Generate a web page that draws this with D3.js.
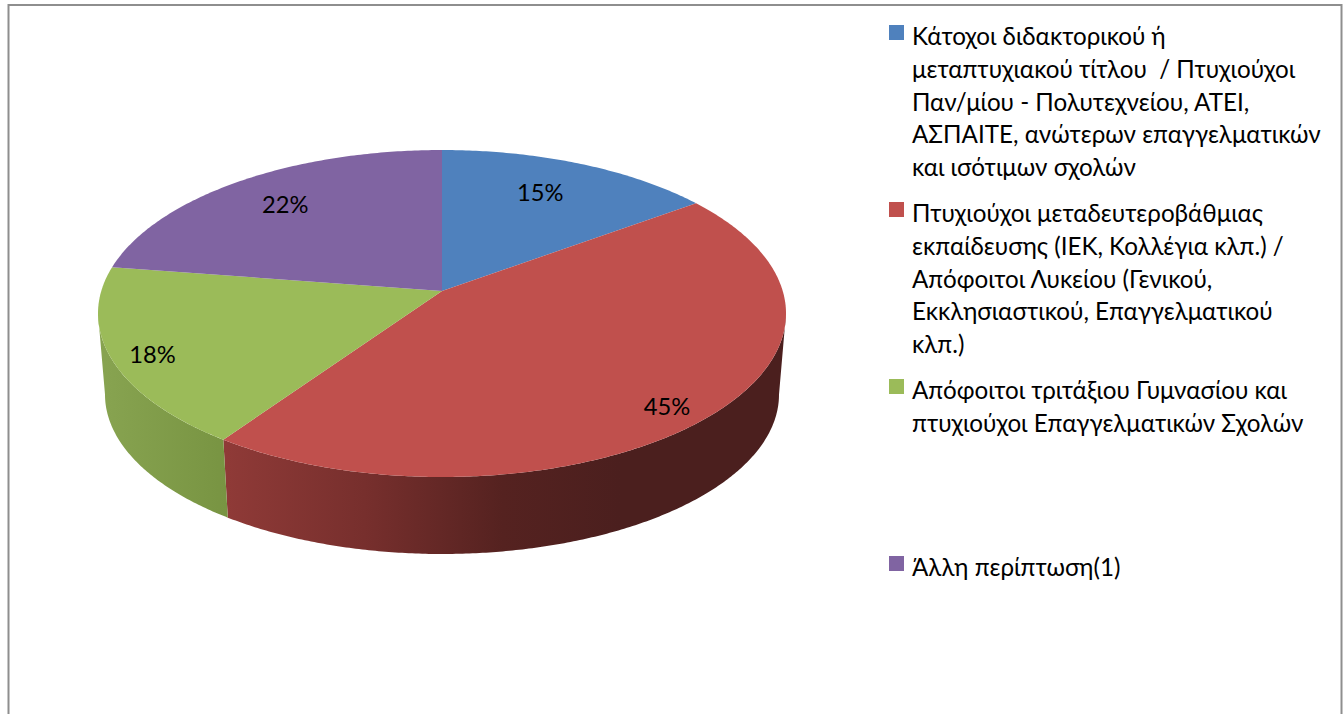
<!DOCTYPE html>
<meta charset="utf-8">
<style>
  body { margin: 0; background: #fff; overflow: hidden; }
  svg { display: block; }
  text { font-family: "Lato", "Open Sans", sans-serif; fill: #000; white-space: pre; }
</style>
<svg id="chart" width="1344" height="714"></svg>
<script src="https://cdn.jsdelivr.net/npm/d3@7/dist/d3.min.js"></script>
<script>

var categories = [
  ["Κάτοχοι διδακτορικού ή", "μεταπτυχιακού τίτλου  / Πτυχιούχοι", "Παν/μίου - Πολυτεχνείου, ΑΤΕΙ,", "ΑΣΠΑΙΤΕ, ανώτερων επαγγελματικών", "και ισότιμων σχολών"],
  ["Πτυχιούχοι μεταδευτεροβάθμιας", "εκπαίδευσης (ΙΕΚ, Κολλέγια κλπ.) /", "Απόφοιτοι Λυκείου (Γενικού,", "Εκκλησιαστικού, Επαγγελματικού", "κλπ.)"],
  ["Απόφοιτοι τριτάξιου Γυμνασίου και", "πτυχιούχοι Επαγγελματικών Σχολών"],
  ["Άλλη περίπτωση(1)"]
];
var values = [14.51, 45.43, 18.0, 22.06];

var topColors = ["#4f81bd", "#c0504d", "#9bbb59", "#8064a2"];
var legendY = [25, 202, 379, 556]; // top of each legend square
// how far out along its slice each label sits, excel "best fit" style
var labelReach = [0.75, 0.87, 0.87, 0.77];
var labelNudge = [[-5, -3], [-6, 6], [-2, 5], [-1, -2]];

var svg = d3.select("#chart");
var defs = svg.append("defs");

svg.append("rect")
    .attr("x", 8.5).attr("y", 5).attr("width", 1333).attr("height", 800)
    .attr("fill", "none").attr("stroke", "#8e8e8e").attr("stroke-width", 2);

// top face and bottom rim ellipses, in unit coordinates
var xTop = d3.scaleLinear().domain([-1, 1]).range([98, 786]);
var yTop = d3.scaleLinear().domain([-1, 1]).range([150, 477]);
var xBot = d3.scaleLinear().domain([-1, 1]).range([105, 779]);
var yBot = d3.scaleLinear().domain([-1, 1]).range([235, 554]);
var apexV = -0.138; // the tilt pushes the pie centre above the ellipse centre
var squeeze = 0.9;

// true pie angle -> angle on the drawn ellipse
function rim(a) {
  var r = 2 * Math.atan2(squeeze * Math.sin(a / 2), Math.cos(a / 2));
  return r < 0 ? r + 2 * Math.PI : r;
}
function angles(a, b) {
  var n = Math.ceil((b - a) / 0.01);
  return d3.range(n + 1).map(function(i) { return a + (b - a) * i / n; });
}
var lineTop = d3.line()
    .x(function(a) { return xTop(Math.sin(a)); })
    .y(function(a) { return yTop(-Math.cos(a)); });
var lineBot = d3.line()
    .x(function(a) { return xBot(Math.sin(a)); })
    .y(function(a) { return yBot(-Math.cos(a)); });

var arcs = d3.pie().sort(null)(values).map(function(d) {
  return { index: d.index, a: rim(d.startAngle), b: rim(d.endAngle), mid: rim((d.startAngle + d.endAngle) / 2) };
});

// walls first
var wallStops = [
  [{ o: 0, c: "#8f3a37" }, { o: 0.35, c: "#772f2d" }, { o: 0.7, c: "#552220" }, { o: 1, c: "#4b1f1e" }],
  [{ o: 0, c: "#87a350" }, { o: 1, c: "#789442" }]
];
var wallSpan = [[227, 620], [105, 227]];

[1, 2].forEach(function(i, k) {
  var g = defs.append("linearGradient")
      .attr("id", "wall" + i)
      .attr("gradientUnits", "userSpaceOnUse")
      .attr("x1", wallSpan[k][0]).attr("x2", wallSpan[k][1])
      .attr("y1", 0).attr("y2", 0);
  g.selectAll("stop").data(wallStops[k]).enter().append("stop")
      .attr("offset", function(d) { return d.o; })
      .attr("stop-color", function(d) { return d.c; });
  var a = Math.max(arcs[i].a, Math.PI / 2), b = Math.min(arcs[i].b, Math.PI * 1.5);
  var up = lineTop(angles(a, b));
  var down = lineBot(angles(a, b).reverse());
  svg.append("path")
      .attr("d", up + "L" + down.slice(1) + "Z")
      .attr("fill", "url(#wall" + i + ")");
});

// top face
svg.append("g").selectAll("path").data(arcs).enter().append("path")
    .attr("d", function(d) {
      return lineTop(angles(d.a, d.b)) + "L" + xTop(0) + "," + yTop(apexV) + "Z";
    })
    .attr("fill", function(d) { return topColors[d.index]; });

// data labels
var pct = d3.format(".0f");
svg.append("g").selectAll("text").data(arcs).enter().append("text")
    .attr("x", function(d) {
      return xTop(Math.sin(d.mid) * labelReach[d.index]) + labelNudge[d.index][0];
    })
    .attr("y", function(d) {
      var v = -Math.cos(d.mid);
      return yTop(apexV + (v - apexV) * labelReach[d.index]) + labelNudge[d.index][1];
    })
    .attr("text-anchor", "middle")
    .attr("dy", "0.35em")
    .attr("font-size", 23.7)
    .text(function(d) { return pct(values[d.index]) + "%"; });

// legend
var legend = svg.append("g").selectAll("g").data(categories).enter().append("g")
    .attr("transform", function(d, i) { return "translate(889," + legendY[i] + ")"; });
legend.append("rect")
    .attr("width", 15).attr("height", 15)
    .attr("fill", function(d, i) { return topColors[i]; });
legend.selectAll("text").data(function(d) { return d; }).enter().append("text")
    .attr("x", 23)
    .attr("y", function(d, i) { return 20 + i * 32.8; })
    .attr("font-size", 24.2)
    .text(function(d) { return d; });

</script>
